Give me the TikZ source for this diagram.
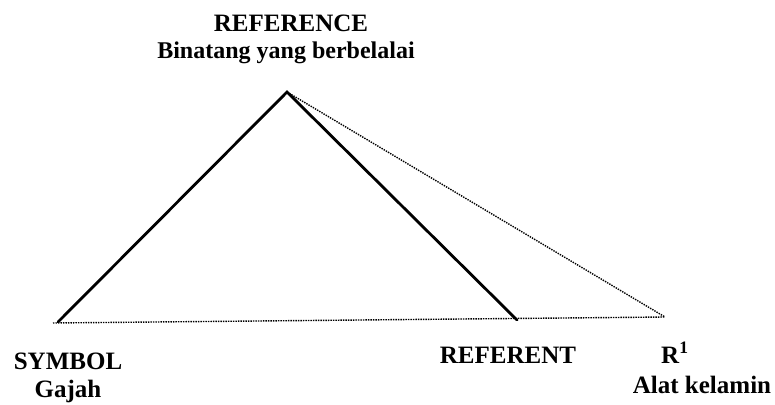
\documentclass[tikz,border=0pt]{standalone}
\usepackage{fontspec}
\setmainfont{Liberation Serif}
\usetikzlibrary{positioning}

\begin{document}
\begin{tikzpicture}[
    x=1pt, y=-1pt,
    side/.style={line width=2.8pt, line cap=round},
    link/.style={line width=1.4pt, dash pattern=on 1.4pt off 1.1pt},
    term/.style={font=\fontsize{25}{29}\selectfont\bfseries, anchor=base, inner sep=0pt},
    gloss/.style={font=\fontsize{24}{28}\selectfont\bfseries, anchor=base, inner sep=0pt}
  ]
  \useasboundingbox (0,0) rectangle (775,404);

  % --- corners of the triangle ---
  \coordinate (ref) at (287,92);
  \coordinate (sym) at (58,322);
  \coordinate (base) at (53,323);
  \coordinate (rnt) at (517,320);
  \coordinate (rone) at (665,317);

  % --- labels ---
  \node[term] (reflabel) at (291,32) {REFERENCE};
  \node[gloss] (refgloss) at (286,58) {Binatang yang berbelalai};
  \node[term] (symlabel) at (68,369) {SYMBOL};
  \node[gloss, font=\fontsize{25}{29}\selectfont\bfseries] (symgloss) at (68,397) {Gajah};
  \node[term] (rntlabel) at (508,363) {REFERENT};
  \node[term, anchor=base west] (ronelabel) at (661,363) {R\textsuperscript{1}};
  \node[gloss, font=\fontsize{25}{29}\selectfont\bfseries] (ronegloss) at (702,393) {Alat kelamin};

  % --- solid sides ---
  \draw[side] (sym) -- (ref) -- (rnt);

  % --- dotted sides ---
  \draw[link] (ref) -- (rone);
  \draw[link] (base) -- (rone);

\end{tikzpicture}
\end{document}
